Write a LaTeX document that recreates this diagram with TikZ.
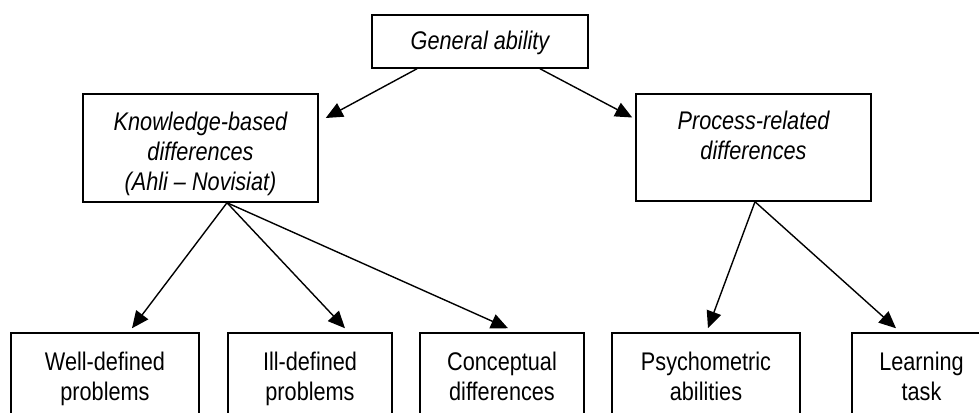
\documentclass[tikz,border=0pt]{standalone}
\usepackage{fontspec}
\setmainfont[FakeStretch=0.85]{Liberation Sans}
\usetikzlibrary{arrows.meta}
\begin{document}
\begin{tikzpicture}[x=1pt,y=-1pt,
  box/.style={draw,line width=1.5pt,align=center,inner sep=0pt,font=\fontsize{25.5}{30}\selectfont},
  ibox/.style={box,font=\fontsize{25.5}{30}\selectfont\itshape},
  arr/.style={-{Triangle[length=17pt,width=15pt]},line width=1.4pt}]
\useasboundingbox(0,0)rectangle(979,412);
\clip(0,0)rectangle(979,412);
\node[ibox,minimum width=216,minimum height=53,text height=23,text depth=6](ga)at(480,41.5){General ability};
\node[ibox,minimum width=235,minimum height=108,text height=90,text depth=6](kb)at(200.5,148){Knowledge-based\\differences\\(Ahli -- Novisiat)};
\node[ibox,minimum width=235,minimum height=107,text height=90,text depth=6](pr)at(753.5,147.5){Process-related\\differences\\ };
\node[box,minimum width=188,minimum height=88,text height=52,text depth=6](wd)at(105,377){Well-defined\\problems};
\node[box,minimum width=164,minimum height=88,text height=52,text depth=6](id)at(310,377){Ill-defined\\problems};
\node[box,minimum width=164,minimum height=88,text height=52,text depth=6](cd)at(502,377){Conceptual\\differences};
\node[box,minimum width=188,minimum height=88,text height=52,text depth=6](pa)at(706,377){Psychometric\\abilities};
\node[box,minimum width=139,minimum height=88,text height=52,text depth=6](lt)at(921.5,377){Learning\\task};
\draw[arr]([xshift=-63pt]ga.south)--([shift={(7pt,30pt)}]kb.east);
\draw[arr]([xshift=60pt]ga.south)--([shift={(-3pt,30pt)}]pr.west);
\draw[arr]([xshift=26.5pt]kb.south)--([shift={(27pt,4pt)}]wd.north);
\draw[arr]([xshift=26.5pt]kb.south)--([shift={(35pt,4pt)}]id.north);
\draw[arr]([xshift=26.5pt]kb.south)--([shift={(6pt,4pt)}]cd.north);
\draw[arr]([xshift=1.5pt]pr.south)--([shift={(2pt,4pt)}]pa.north);
\draw[arr]([xshift=1.5pt]pr.south)--([shift={(-25.5pt,4pt)}]lt.north);
\end{tikzpicture}
\end{document}
